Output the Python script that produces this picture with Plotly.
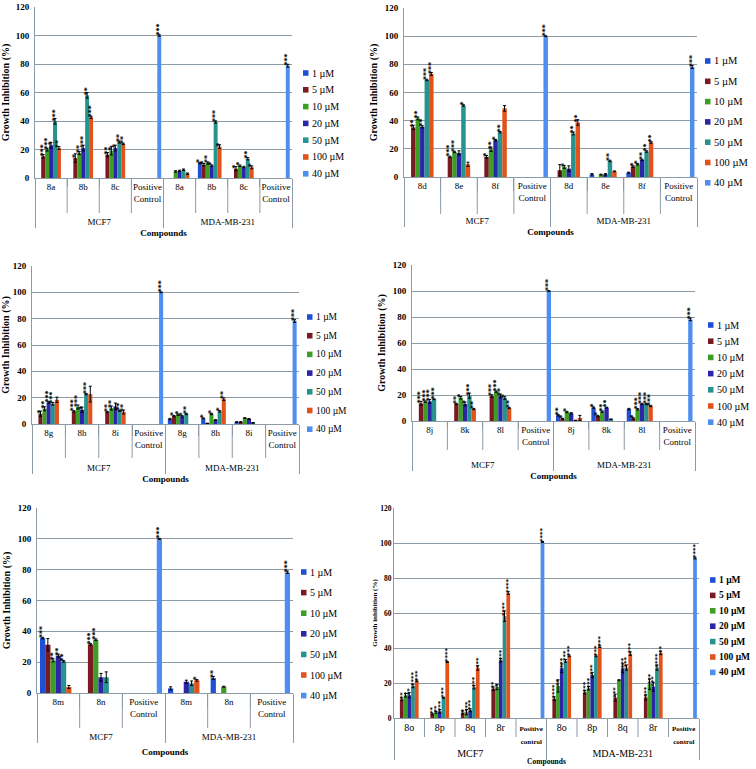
import plotly.graph_objects as go

# ---------------- data ----------------
CONC = ["1 µM", "5 µM", "10 µM", "20 µM", "50 µM", "100 µM", "40 µM"]
GROUPS = ["MCF7", "MDA-MB-231"]

# value lists: MCF7 compounds followed by MDA-MB-231 compounds
A_COMPOUNDS = ["8a", "8b", "8c"]
A_VALUES = {
    "1 µM":   [None, None, None, None, 10.5, None],
    "5 µM":   [15.2, 14.0, 16.4, None, 9.4, 6.5],
    "10 µM":  [19.9, 17.5, 19.2, 4.6, 10.5, 8.6],
    "20 µM":  [23.0, 21.0, 21.0, 5.0, 8.7, 7.7],
    "50 µM":  [39.8, 58.0, 25.3, 5.8, 39.3, 13.5],
    "100 µM": [21.0, 42.6, 23.9, 3.0, 22.0, 7.5],
}
A_ERRORS = {
    "1 µM":   [0, 0, 0, 0, 0.5, 0],
    "5 µM":   [1.2, 3.0, 1.5, 0, 0.8, 1.5],
    "10 µM":  [1.0, 1.0, 3.0, 0.5, 0.8, 0.5],
    "20 µM":  [2.0, 2.0, 2.0, 0.5, 0.5, 0.5],
    "50 µM":  [2.0, 2.0, 0.7, 0.5, 0.8, 0.8],
    "100 µM": [1.0, 0.8, 0.5, 0.5, 1.3, 1.0],
}
A_STARS = {
    "1 µM":   ["", "", "", "", "*", ""],
    "5 µM":   ["***", "*", "**", "", "*", "*"],
    "10 µM":  ["***", "**", "*", "", "**", "*"],
    "20 µM":  ["*", "***", "*", "", "*", ""],
    "50 µM":  ["***", "**", "**", "", "***", "**"],
    "100 µM": ["**", "***", "**", "", "*", "*"],
}
A_CONTROL = [100.0, 78.8]
A_CONTROL_ERR = [0.5, 1.0]

B_COMPOUNDS = ["8d", "8e", "8f"]
B_VALUES = {
    "1 µM":   [None, None, None, None, 1.9, 3.1],
    "5 µM":   [35.2, 14.3, 14.3, 4.8, None, 7.4],
    "10 µM":  [41.6, 17.8, 19.7, 7.1, 1.7, 9.0],
    "20 µM":  [35.6, 17.1, 26.1, 5.9, 1.9, 12.1],
    "50 µM":  [68.9, 50.8, 31.8, 30.9, 11.4, 18.1],
    "100 µM": [73.2, 9.0, 48.7, 38.7, 4.0, 24.5],
}
B_ERRORS = {
    "1 µM":   [0, 0, 0, 0, 0.5, 0.3],
    "5 µM":   [1.5, 0.5, 1.0, 4.0, 0, 0.5],
    "10 µM":  [1.0, 0.5, 1.5, 1.0, 0.3, 0.5],
    "20 µM":  [0.8, 1.5, 0.5, 2.0, 0.5, 0.5],
    "50 µM":  [0.5, 0.5, 0.5, 1.0, 0.5, 0.5],
    "100 µM": [1.0, 1.5, 2.0, 2.0, 0.3, 0.5],
}
B_STARS = {
    "1 µM":   ["", "", "", "", "", ""],
    "5 µM":   ["**", "***", "*", "", "", "*"],
    "10 µM":  ["**", "***", "**", "*", "", "*"],
    "20 µM":  ["**", "", "*", "", "", "**"],
    "50 µM":  ["***", "*", "**", "**", "**", "**"],
    "100 µM": ["***", "", "", "**", "", "**"],
}
B_CONTROL = [100.0, 78.1]
B_CONTROL_ERR = [0.3, 1.0]

C_COMPOUNDS = ["8g", "8h", "8i"]
C_VALUES = {
    "1 µM":   [None, None, None, 3.8, 4.3, 1.5],
    "5 µM":   [7.8, 9.6, 9.1, 6.0, 0.5, 1.5],
    "10 µM":  [11.6, 12.9, 12.1, 7.1, 7.6, 4.5],
    "20 µM":  [16.4, 10.8, 13.4, 5.8, 3.0, 3.8],
    "50 µM":  [15.4, 22.7, 10.1, 7.6, 9.6, 0.8],
    "100 µM": [18.4, 22.7, 9.1, None, 18.9, None],
}
C_ERRORS = {
    "1 µM":   [0, 0, 0, 0.5, 0.3, 0.3],
    "5 µM":   [2.0, 0.5, 0.5, 0.5, 0, 0.3],
    "10 µM":  [1.5, 1.5, 1.5, 0.5, 0.5, 0.3],
    "20 µM":  [0.5, 2.0, 2.5, 0.5, 0.3, 0.3],
    "50 µM":  [1.0, 0.5, 0.5, 0.5, 0.5, 0.2],
    "100 µM": [2.0, 6.0, 1.5, 0, 1.0, 0],
}
C_STARS = {
    "1 µM":   ["", "", "", "", "*", ""],
    "5 µM":   ["*", "***", "**", "*", "", ""],
    "10 µM":  ["**", "***", "**", "*", "*", ""],
    "20 µM":  ["***", "*", "", "*", "", ""],
    "50 µM":  ["***", "***", "**", "**", "*", ""],
    "100 µM": ["", "", "**", "", "**", ""],
}
C_CONTROL = [100.0, 78.2]
C_CONTROL_ERR = [0.3, 1.0]

D_COMPOUNDS = ["8j", "8k", "8l"]
D_VALUES = {
    "1 µM":   [None, None, None, 4.4, 10.3, 9.2],
    "5 µM":   [13.6, 13.1, 19.2, 1.8, 3.8, 2.0],
    "10 µM":  [14.9, 17.9, 22.6, 6.9, 7.2, 9.0],
    "20 µM":  [15.1, 13.1, 19.2, 5.9, 10.3, 13.1],
    "50 µM":  [16.7, 19.5, 17.7, 0.5, 1.3, 13.1],
    "100 µM": [None, 9.2, 10.0, 2.3, None, 11.5],
}
D_ERRORS = {
    "1 µM":   [0, 0, 0, 0.5, 0.5, 0.5],
    "5 µM":   [1.5, 0.5, 1.0, 0.3, 0.5, 0.5],
    "10 µM":  [0.5, 1.0, 0.5, 0.5, 0.5, 0.5],
    "20 µM":  [1.5, 1.5, 1.5, 0.5, 0.3, 0.5],
    "50 µM":  [0.3, 2.0, 1.0, 0, 0.3, 0.5],
    "100 µM": [0, 0.5, 0.5, 2.0, 0, 0.5],
}
D_STARS = {
    "1 µM":   ["", "", "", "**", "*", ""],
    "5 µM":   ["***", "**", "***", "*", "*", "*"],
    "10 µM":  ["***", "*", "***", "*", "**", "***"],
    "20 µM":  ["***", "*", "**", "", "**", "***"],
    "50 µM":  ["***", "***", "*", "", "", "***"],
    "100 µM": ["", "**", "**", "", "", "***"],
}
D_CONTROL = [100.0, 78.2]
D_CONTROL_ERR = [0.3, 1.0]

E_COMPOUNDS = ["8m", "8n"]
E_VALUES = {
    "1 µM":   [35.6, None, 3.0, 9.7],
    "5 µM":   [31.3, 31.5, None, None],
    "10 µM":  [21.2, 34.6, None, 4.1],
    "20 µM":  [24.2, 10.2, 7.3, None],
    "50 µM":  [20.5, 10.2, 6.3, None],
    "100 µM": [3.9, None, 8.2, None],
}
E_ERRORS = {
    "1 µM":   [0.5, 0, 1.0, 1.0],
    "5 µM":   [4.0, 0.5, 0, 0],
    "10 µM":  [1.0, 0.5, 0, 0.3],
    "20 µM":  [1.0, 2.5, 1.0, 0],
    "50 µM":  [0.5, 3.5, 1.5, 0],
    "100 µM": [1.0, 0, 0.5, 0],
}
E_STARS = {
    "1 µM":   ["***", "", "", "**"],
    "5 µM":   ["", "***", "", ""],
    "10 µM":  ["**", "***", "", ""],
    "20 µM":  ["**", "", "", ""],
    "50 µM":  ["**", "", "", ""],
    "100 µM": ["", "", "*", ""],
}
E_CONTROL = [100.0, 78.3]
E_CONTROL_ERR = [0.3, 0.8]

F_COMPOUNDS = ["8o", "8p", "8q", "8r"]
F_VALUES = {
    "1 µM":   [None, None, None, None, None, None, None, None],
    "5 µM":   [10.7, 2.3, 3.1, 16.8, 11.1, 14.7, 11.6, 11.8],
    "10 µM":  [13.0, 3.2, 3.4, 17.7, 18.3, 17.0, 21.6, 19.3],
    "20 µM":  [13.0, 3.8, 4.4, 33.0, 28.4, 24.6, 28.4, 17.9],
    "50 µM":  [18.3, 11.6, 17.6, 58.2, 32.6, 35.5, 28.8, 28.8],
    "100 µM": [21.2, 32.0, 28.6, 71.4, 35.5, 40.8, 36.8, 37.2],
}
F_ERRORS = {
    "1 µM":   [0, 0, 0, 0, 0, 0, 0, 0],
    "5 µM":   [0.8, 0.5, 1.0, 1.0, 1.0, 1.0, 2.0, 1.5],
    "10 µM":  [1.0, 0.5, 1.5, 1.5, 3.5, 1.0, 0.3, 3.0],
    "20 µM":  [1.5, 1.0, 0.8, 1.0, 2.5, 1.5, 2.5, 2.5],
    "50 µM":  [1.0, 0.3, 1.0, 3.0, 0.8, 0.5, 1.5, 1.5],
    "100 µM": [0.5, 0.3, 1.3, 0.8, 0.5, 0.5, 1.0, 1.0],
}
F_STARS = {
    "1 µM":   ["", "", "", "", "", "", "", ""],
    "5 µM":   ["**", "**", "*", "**", "****", "***", "***", "***"],
    "10 µM":  ["*", "**", "***", "*", "**", "***", "", "***"],
    "20 µM":  ["**", "***", "***", "***", "***", "***", "***", "***"],
    "50 µM":  ["****", "***", "***", "****", "***", "***", "***", "****"],
    "100 µM": ["***", "****", "***", "****", "***", "***", "***", "**"],
}
F_CONTROL = [100.6, 91.4]
F_CONTROL_ERR = [0.3, 0.5]

CONTROL_STARS = [["***", "***"]] * 5 + [["****", "****"]]

# ---------------- style ----------------
COLORS = ["#1f4fd6", "#7a1b22", "#3c9f24", "#2b25a8", "#27938f", "#e2531c", "#4e8ef0"]
SERIF = "Liberation Serif, Times New Roman, serif"
LINE = "#8d9ba6"
W, H = 756, 769

# plot area in pixels: x-left, x-right, y(0-level), y(120-level)
BOXES = [
    (35, 292, 178, 7),
    (404, 697, 177, 8),
    (32, 299, 424, 266),
    (412, 695, 421, 265),
    (37, 293, 693, 508),
    (394, 699, 718, 508),
]
INNER_TICK = [35, 37, 34, 29, 35, 19]
LABEL_DROP = [8, 13, 11, 7, 14, 0]
TITLE_STANDOFF = [3, 3, 3, 3, 7, 0]
# legend key: symbol x, first entry y, spacing, font size
LEGEND_SPEC = [(303, 73, 16.8, 10), (705, 61, 20.3, 10.5), (307, 317, 18.7, 9.5),
               (708, 325, 16.2, 10), (301, 572, 20.6, 10), (710, 580, 15.4, 9.5)]
# trailing no-break-space line reserves room between the two label rows
PC_LABEL = "Positive<br>Control<br>\u00a0"
PC_LABEL_F = ("<span style='font-size:7px'><b>Positive</b></span><br>"
              "<span style='font-size:7px'><b>control</b></span>")

PANELS = [
    (A_COMPOUNDS, A_VALUES, A_ERRORS, A_STARS, A_CONTROL, A_CONTROL_ERR, PC_LABEL),
    (B_COMPOUNDS, B_VALUES, B_ERRORS, B_STARS, B_CONTROL, B_CONTROL_ERR, PC_LABEL),
    (C_COMPOUNDS, C_VALUES, C_ERRORS, C_STARS, C_CONTROL, C_CONTROL_ERR, PC_LABEL),
    (D_COMPOUNDS, D_VALUES, D_ERRORS, D_STARS, D_CONTROL, D_CONTROL_ERR, PC_LABEL),
    (E_COMPOUNDS, E_VALUES, E_ERRORS, E_STARS, E_CONTROL, E_CONTROL_ERR, PC_LABEL),
    (F_COMPOUNDS, F_VALUES, F_ERRORS, F_STARS, F_CONTROL, F_CONTROL_ERR, PC_LABEL_F),
]

fig = go.Figure()
shapes = []
annotations = []
layout = {}

for p, (comps, vals, errs, stars, ctrl, ctrl_err, pc_label) in enumerate(PANELS):
    s = "" if p == 0 else str(p + 1)
    n = len(comps)
    small = p == 5
    outer, inner = [], []
    for g in GROUPS:
        outer += [g] * (n + 1)
        inner += comps + [pc_label]

    def expand(lst, fill=None):
        return list(lst[:n]) + [fill] + list(lst[n:]) + [fill]

    for k, conc in enumerate(CONC):
        if conc == "40 µM":
            y = [None] * n + [ctrl[0]] + [None] * n + [ctrl[1]]
            e = [0] * n + [ctrl_err[0]] + [0] * n + [ctrl_err[1]]
            t = [""] * n + [CONTROL_STARS[p][0]] + [""] * n + [CONTROL_STARS[p][1]]
        else:
            y = expand(vals[conc])
            e = expand(errs[conc], 0)
            t = expand(stars[conc], "")
        fig.add_trace(go.Bar(
            x=[outer, inner], y=y, name=conc, showlegend=False,
            marker=dict(color=COLORS[k], line=dict(width=0)),
            error_y=dict(type="data", array=e, color="black", thickness=1, width=1.5),
            text=t, textposition="outside", textangle=-90, constraintext="none",
            textfont=dict(family=SERIF, size=7 if small else 8, color="black", weight="bold"),
            cliponaxis=False,
            xaxis="x" + s, yaxis="y" + s,
        ))

    x0, x1, yb, yt = BOXES[p]
    dx = [x0 / W, x1 / W]
    dy = [1 - yb / H, 1 - yt / H]
    drop = LABEL_DROP[p]
    layout["xaxis" + s] = dict(
        type="multicategory", domain=dx, anchor="y" + s,
        showline=True, linecolor=LINE, linewidth=1, showgrid=False,
        ticks="outside" if drop else "", ticklen=max(drop, 1), tickcolor=LINE,
        tickson="boundaries", tickangle=0,
        showdividers=True, dividercolor=LINE, dividerwidth=1,
        tickfont=dict(family=SERIF, size=10 if small else 9, color="black"),
        title=dict(text="Compounds", font=dict(family=SERIF, size=7.5 if small else 9,
                                                 color="black", weight="bold"),
                   standoff=TITLE_STANDOFF[p]),
        automargin=False, fixedrange=True,
    )
    layout["yaxis" + s] = dict(
        domain=dy, anchor="x" + s, range=[0, 120], dtick=20,
        showgrid=True, gridcolor=LINE, gridwidth=1, zeroline=False,
        showline=True, linecolor=LINE,
        ticks="" if small else "outside", ticklen=3, tickcolor="rgba(0,0,0,0)",
        tickfont=dict(family=SERIF, size=7.5 if small else 9, color="black", weight="bold"),
        title=dict(text="Growth inhibition (%)" if small else "Growth Inhibition (%)",
                   font=dict(family=SERIF, size=7 if small else 10, color="black", weight="bold"),
                   standoff=1 if small else 5),
        automargin=False, fixedrange=True,
    )
    # boundaries between neighbouring categories inside a cell-line group
    total = 2 * (n + 1)
    for b in range(1, total):
        if b == n + 1:
            continue
        xp = dx[0] + b / total * (dx[1] - dx[0])
        shapes.append(dict(type="line", xref="paper", yref="paper",
                           x0=xp, x1=xp, y0=dy[0], y1=dy[0] - INNER_TICK[p] / H,
                           line=dict(color=LINE, width=1)))
    # legend key
    sx, fy, gap, fs = LEGEND_SPEC[p]
    for k, conc in enumerate(CONC):
        cy = fy + k * gap
        shapes.append(dict(type="rect", xref="paper", yref="paper",
                           x0=sx / W, x1=(sx + 5.5) / W,
                           y0=1 - (cy + 2.8) / H, y1=1 - (cy - 2.8) / H,
                           fillcolor=COLORS[k], line=dict(width=0)))
        annotations.append(dict(text=conc, xref="paper", yref="paper",
                                x=(sx + 6.5) / W, y=1 - cy / H, xanchor="left", yanchor="middle",
                                showarrow=False,
                                font=dict(family=SERIF, size=fs, color="black",
                                          weight="bold" if small else "normal")))

fig.update_layout(
    width=W, height=H, margin=dict(l=0, r=0, t=0, b=0),
    paper_bgcolor="white", plot_bgcolor="white",
    barmode="group", bargap=0.14, bargroupgap=0,
    showlegend=False, shapes=shapes, annotations=annotations,
    font=dict(family=SERIF, color="black"),
    **layout,
)

fig.write_html("out.html", config={"displayModeBar": False},
               post_script="document.body.style.margin='0px';")
